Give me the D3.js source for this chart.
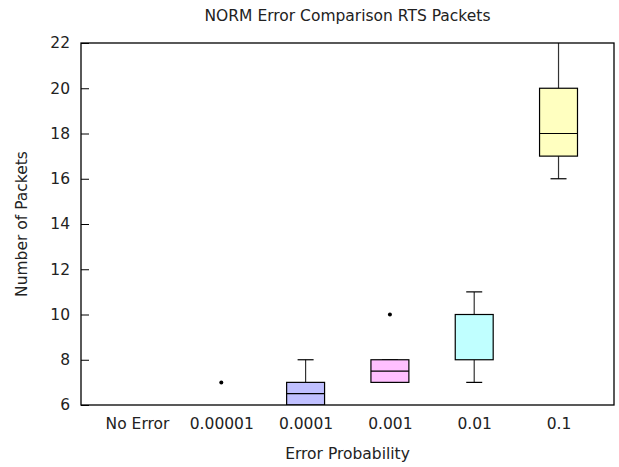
<!DOCTYPE html>
<html>
<head>
<meta charset="utf-8">
<script src="https://cdn.jsdelivr.net/npm/d3@7"></script>
<style>
  html, body { margin: 0; padding: 0; background: #fff; }
  svg text { font-family: "DejaVu Sans", sans-serif; fill: #222; }
</style>
</head>
<body>
<svg id="chart" width="619" height="467"></svg>
<script>
// ---- data ----
const categories = ["No Error", "0.00001", "0.0001", "0.001", "0.01", "0.1"];
const whiskerLow = [5, 5, 5, 7, 7, 16];
const q1Values   = [5, 5, 6, 7, 8, 17];
const medians    = [5, 5, 6.5, 7.5, 10, 18];
const q3Values   = [5, 5, 7, 8, 10, 20];
const whiskerHigh= [5, 5, 8, 8, 11, 23];
const outliers   = [[], [7], [], [10], [], []];
const boxColors  = ["#c0c0c0", "#c0ffc0", "#c0c0ff", "#ffc0ff", "#c0ffff", "#ffffc0"];
const yTicks = [6, 8, 10, 12, 14, 16, 18, 20, 22];

const chartTitle = "NORM Error Comparison RTS Packets";
const xLabel = "Error Probability";
const yLabel = "Number of Packets";

// ---- layout ----
const svg = d3.select("#chart");
const mLeft = 81, mRight = 614, mTop = 43, mBottom = 405;

const x = d3.scaleLinear().domain([0.336, 6.658]).range([mLeft, mRight]);
const y = d3.scaleLinear().domain([6, 22]).range([mBottom, mTop]);
const boxW = 0.45 * (x(1) - x(0));
const capW = 16;

svg.append("defs").append("clipPath").attr("id", "clip")
  .append("rect").attr("x", mLeft).attr("y", mTop)
  .attr("width", mRight - mLeft).attr("height", mBottom - mTop);

const plot = svg.append("g").attr("clip-path", "url(#clip)");

const data = categories.map((c, i) => ({
  c, i, lo: whiskerLow[i], q1: q1Values[i], med: medians[i], q3: q3Values[i], hi: whiskerHigh[i],
  out: outliers[i], color: boxColors[i]
}));

data.forEach(d => {
  const cx = x(d.i + 1);
  const g = plot.append("g");
  // whiskers
  g.append("line").attr("x1", cx).attr("x2", cx).attr("y1", y(d.q3)).attr("y2", y(d.hi))
    .attr("stroke", "#333").attr("stroke-width", 1.2);
  g.append("line").attr("x1", cx).attr("x2", cx).attr("y1", y(d.q1)).attr("y2", y(d.lo))
    .attr("stroke", "#333").attr("stroke-width", 1.2);
  g.append("line").attr("x1", cx - capW / 2).attr("x2", cx + capW / 2).attr("y1", y(d.hi)).attr("y2", y(d.hi))
    .attr("stroke", "#000").attr("stroke-width", 1.2);
  g.append("line").attr("x1", cx - capW / 2).attr("x2", cx + capW / 2).attr("y1", y(d.lo)).attr("y2", y(d.lo))
    .attr("stroke", "#000").attr("stroke-width", 1.2);
  // box
  g.append("rect").attr("x", cx - boxW / 2).attr("width", boxW)
    .attr("y", y(d.q3)).attr("height", y(d.q1) - y(d.q3))
    .attr("fill", d.color).attr("stroke", "#000").attr("stroke-width", 1.2);
  // median
  g.append("line").attr("x1", cx - boxW / 2).attr("x2", cx + boxW / 2).attr("y1", y(d.med)).attr("y2", y(d.med))
    .attr("stroke", "#000").attr("stroke-width", 1.2);
  // outliers
  d.out.forEach(v => {
    g.append("circle").attr("cx", cx).attr("cy", y(v)).attr("r", 2).attr("fill", "#000");
  });
});

// frame
svg.append("rect").attr("x", mLeft).attr("y", mTop).attr("width", mRight - mLeft).attr("height", mBottom - mTop)
  .attr("fill", "none").attr("stroke", "#000").attr("stroke-width", 1.3);

// y axis (ticks inward)
const yAxis = d3.axisLeft(y).tickValues(yTicks).tickSize(-8).tickPadding(11).tickFormat(d3.format("d"));
const yg = svg.append("g").attr("transform", `translate(${mLeft},0)`).call(yAxis);
yg.select(".domain").remove();
yg.selectAll("line").attr("stroke", "#000");
yg.selectAll("text").attr("font-size", "15.5px").style("font-family", "DejaVu Sans").attr("fill", "#222");

// x axis labels (no ticks)
const xAxis = d3.axisBottom(x).tickValues(categories.map((c, i) => i + 1))
  .tickFormat((d) => categories[d - 1]).tickSize(0).tickPadding(13);
const xg = svg.append("g").attr("transform", `translate(0,${mBottom})`).call(xAxis);
xg.select(".domain").remove();
xg.selectAll("text").attr("font-size", "15.5px").style("font-family", "DejaVu Sans").attr("fill", "#222");

// titles
svg.append("text").attr("x", (mLeft + mRight) / 2).attr("y", 21).attr("text-anchor", "middle")
  .attr("font-size", "15.5px").text(chartTitle);
svg.append("text").attr("x", (mLeft + mRight) / 2).attr("y", 459).attr("text-anchor", "middle")
  .attr("font-size", "15.5px").text(xLabel);
svg.append("text").attr("transform", `translate(27,${(mTop + mBottom) / 2}) rotate(-90)`)
  .attr("text-anchor", "middle").attr("font-size", "15.5px").text(yLabel);
</script>
</body>
</html>
